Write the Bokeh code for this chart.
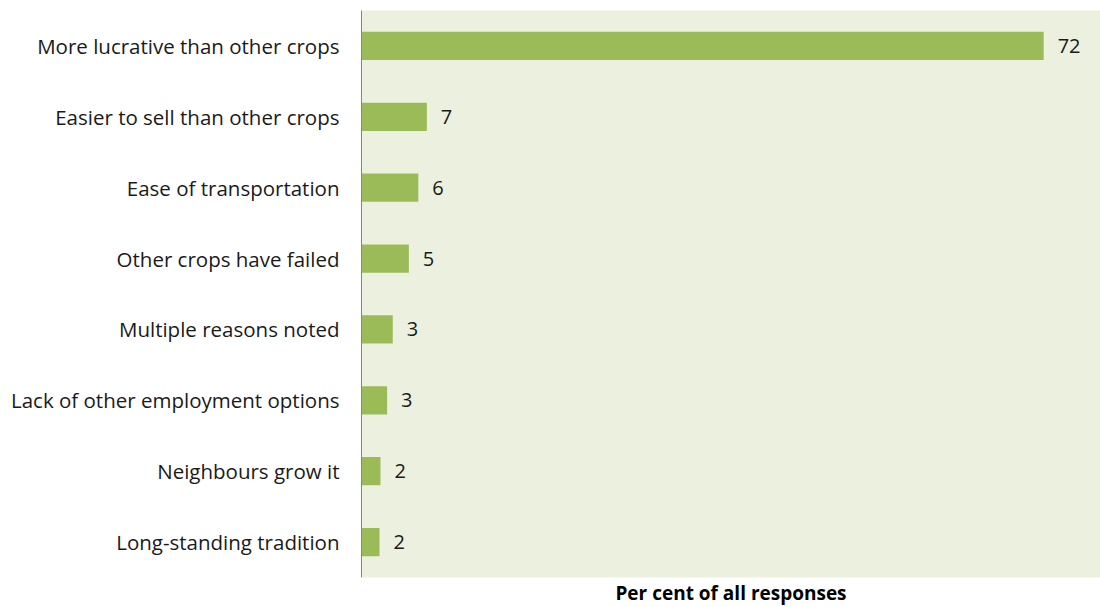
from bokeh.plotting import figure
from bokeh.models import ColumnDataSource, Range1d, FactorRange, Title
from bokeh.core.properties import value
from bokeh.embed import file_html
from bokeh.resources import INLINE

categories = [
    "More lucrative than other crops",
    "Easier to sell than other crops",
    "Ease of transportation",
    "Other crops have failed",
    "Multiple reasons noted",
    "Lack of other employment options",
    "Neighbours grow it",
    "Long-standing tradition",
]
values = [72.0, 6.9, 6.0, 5.0, 3.3, 2.7, 2.0, 1.9]
value_labels = ["72", "7", "6", "5", "3", "3", "2", "2"]
x_title = "Per cent of all responses"

FONT = "Open Sans"
BAR = "#9BBB59"
BG = "#EBF1DE"

src = ColumnDataSource(dict(cat=categories, val=values, lab=value_labels))

p = figure(
    y_range=FactorRange(*reversed(categories), range_padding=0),
    x_range=Range1d(0, 78.0),
    frame_width=739, frame_height=567,
    min_border_left=361, min_border_top=10, min_border_right=0, min_border_bottom=0,
    output_backend="svg", toolbar_location=None,
    background_fill_color=BG, border_fill_color="white",
    outline_line_color=None,
)
p.hbar(y="cat", right="val", left=0, height=0.4, source=src,
       fill_color=BAR, line_color=None)
p.text(x="val", y="cat", text="lab", source=src, x_offset=14,
       text_baseline="middle", text_align="left",
       text_font=value(FONT), text_font_size="20px", text_color="#1a1a1a")

p.xgrid.visible = False
p.ygrid.visible = False
p.xaxis.visible = False

ya = p.yaxis[0]
ya.axis_line_color = "#868686"
ya.axis_line_width = 1
ya.major_tick_line_color = None
ya.minor_tick_line_color = None
ya.major_tick_out = 0
ya.major_tick_in = 0
ya.major_label_standoff = 22
ya.major_label_text_font = FONT
ya.major_label_text_font_size = "20.5px"
ya.major_label_text_color = "#1a1a1a"

p.add_layout(Title(text=x_title, align="center", text_font=FONT,
                   text_font_size="19px", text_font_style="bold",
                   text_color="#000000", standoff=0, offset=0), "below")

open("out.html", "w").write(file_html(p, INLINE))
